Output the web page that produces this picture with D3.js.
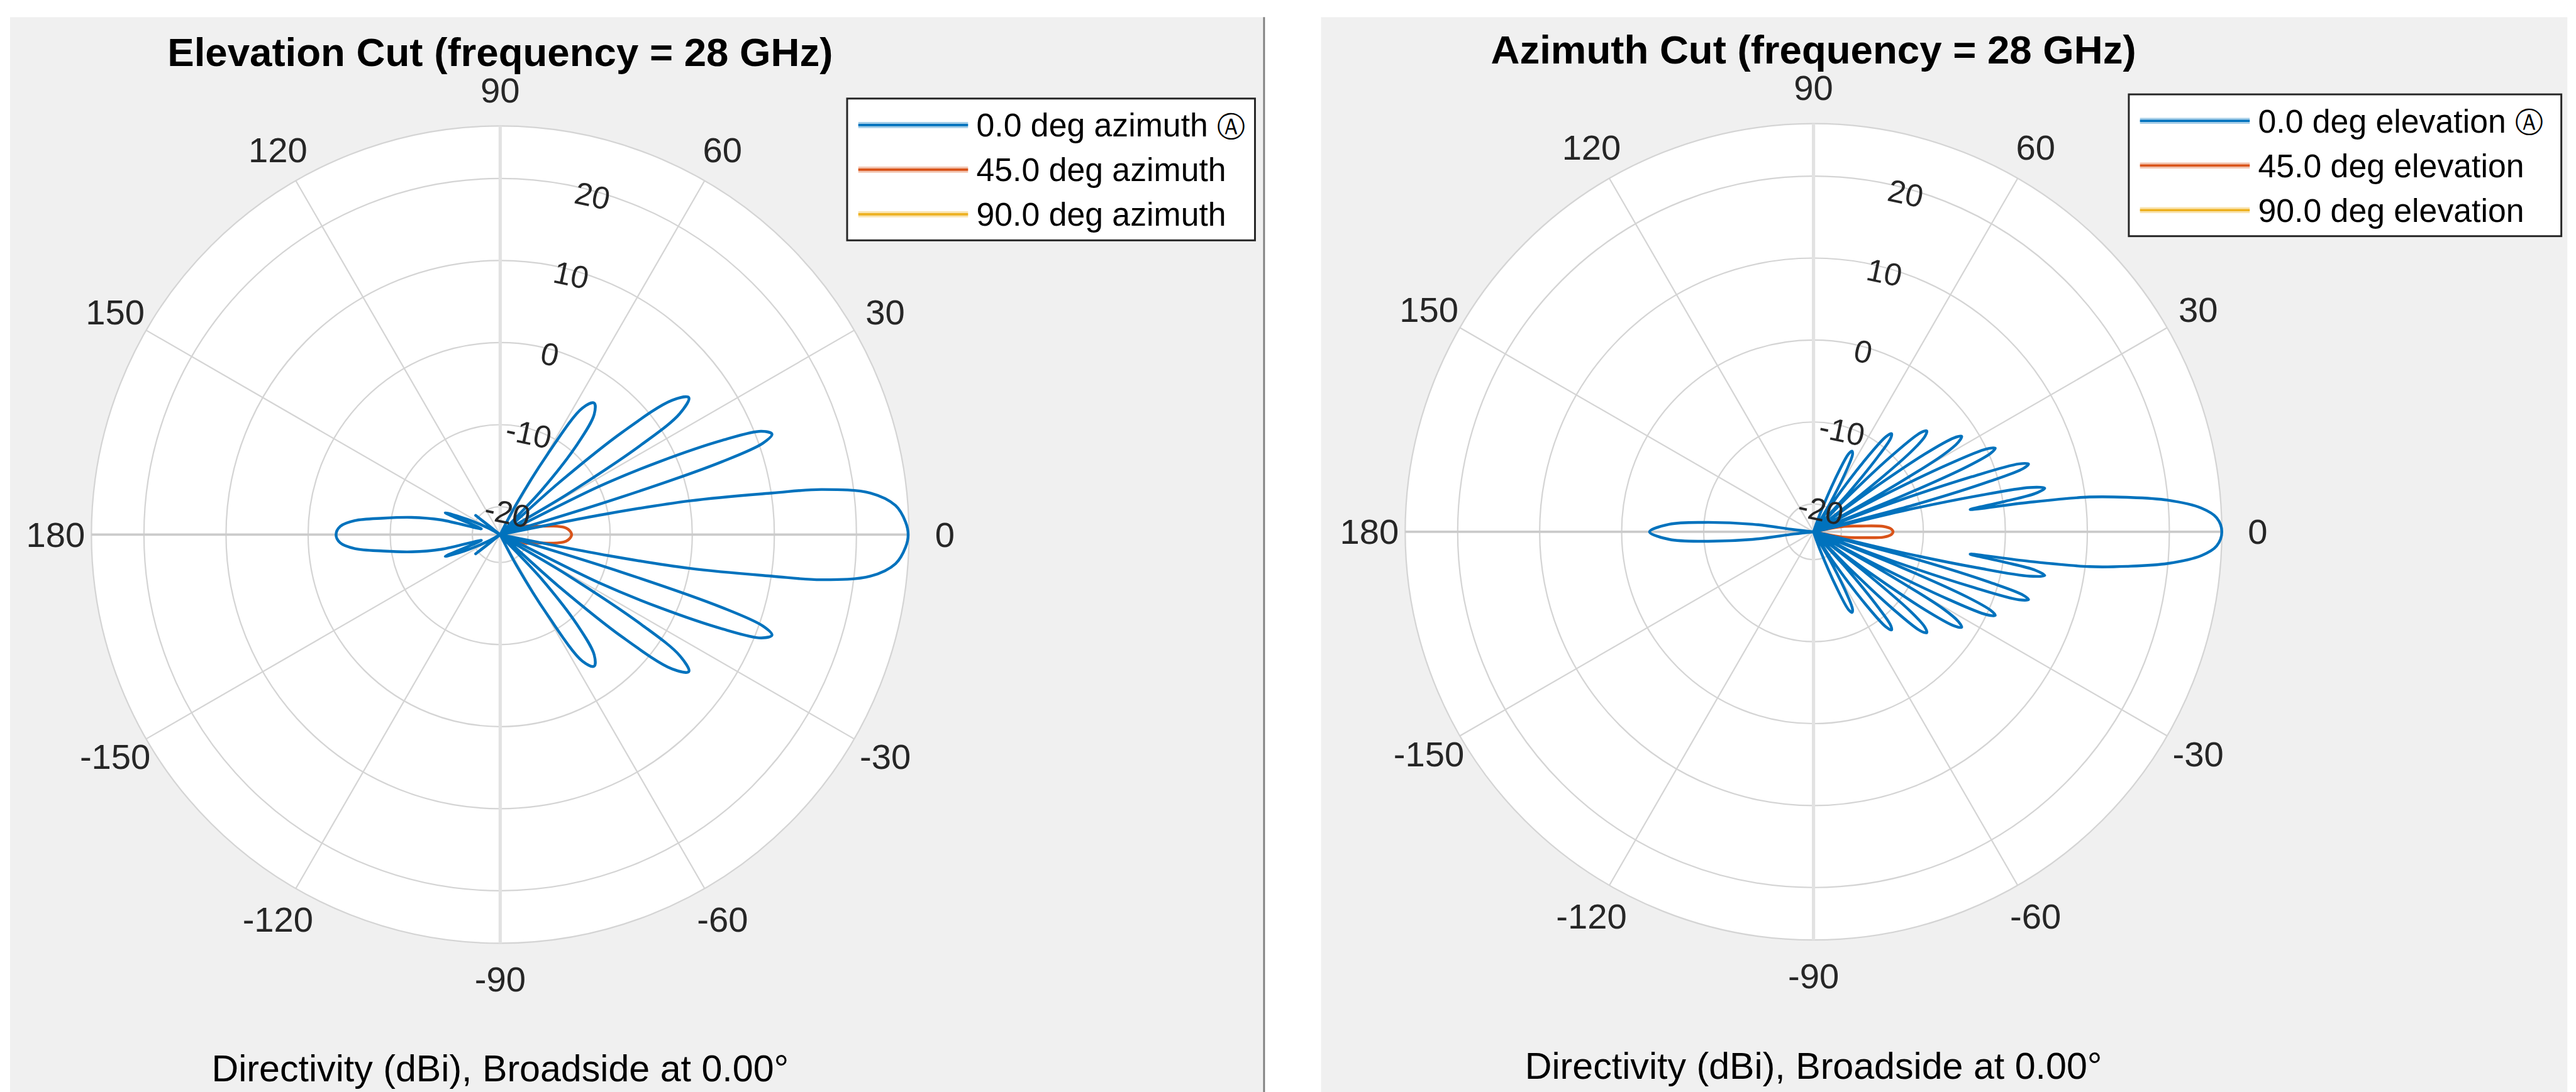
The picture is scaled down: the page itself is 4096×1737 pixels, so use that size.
<!DOCTYPE html>
<html>
<head>
<meta charset="utf-8">
<script src="https://cdn.jsdelivr.net/npm/d3@7"></script>
<style>
  html, body { margin: 0; padding: 0; background: #fff; }
  svg { display: block; font-family: "Liberation Sans", Arial, Helvetica, sans-serif; }
</style>
</head>
<body>
<div id="container"></div>
<script>
/* DATA */
const thetaTicks = [0, 30, 60, 90, 120, 150, 180, -150, -120, -90, -60, -30];
const rTicks = [-20, -10, 0, 10, 20];
const rLimits = [-23.4, 26.4];

const elevTitle = "Elevation Cut (frequency = 28 GHz)";
const azTitle = "Azimuth Cut (frequency = 28 GHz)";
const xLabel = "Directivity (dBi), Broadside at 0.00\u00B0";
const elevLabels = ["0.0 deg azimuth \u24B6", "45.0 deg azimuth", "90.0 deg azimuth"];
const azLabels = ["0.0 deg elevation \u24B6", "45.0 deg elevation", "90.0 deg elevation"];
const seriesColors = ["#0072BD", "#D95319", "#EDB120"];

// [angle (deg), directivity (dBi)]
const elevCut0 = [
  [0,26.3],[1.8,26.0],[4.2,24.9],[6.4,22.0],[8.0,16.1],[8.7,10.1],[10.1,0.1],[11,-10],[12,-23.4],
  [16.5,-23.4],[17.2,-8],[18.2,5],[19.2,10.5],[20.3,11.9],[21.6,10.8],[23,6],[24.6,-2],[26,-10],[27,-23.4],
  [31,-14],[32.5,-3],[34,3],[36,5.0],[38,3.2],[40,-4],[41.5,-14],[43,-23.4],
  [47,-16],[49.5,-9],[52,-4.8],[54.5,-3.7],[57,-5],[59.5,-12],[62,-19],[64,-23.4],
  [100,-23.4],[142,-19.6],[146,-23.4],[151,-22],[155,-19],[158.4,-16.2],[161,-20.5],[163,-21],
  [166,-16.0],[169,-12.4],[172,-9.0],[174.5,-5.6],[177,-3.9],[180,-3.4],
  [183,-3.9],[185.5,-5.6],[188,-9.0],[191,-12.4],[194,-16.0],
  [197,-21],[199,-20.5],[201.6,-16.2],[205,-19],[209,-22],[214,-23.4],[218,-19.6],[260,-23.4],
  [296,-23.4],[298,-19],[300.5,-12],[303,-5],[305.5,-3.7],[308,-4.8],[310.5,-9],[313,-16],
  [317,-23.4],[318.5,-14],[320,-4],[322,3.2],[324,5.0],[326,3],[327.5,-3],[329,-14],
  [333,-23.4],[334,-10],[335.4,-2],[337,6],[338.4,10.8],[339.7,11.9],[340.8,10.5],[341.8,5],[342.8,-8],
  [343.5,-23.4],[348,-23.4],[349,-10],[349.9,0.1],[351.3,10.1],[352,16.1],[353.6,22.0],[355.8,24.9],[358.2,26.0]
];
const elevCut45 = [
  [0,-14.7],[2,-14.8],[4.5,-15.1],[6.6,-15.6],[9,-16.8],[13.5,-19.1],[19,-20.2],[25,-23.4],
  [335,-23.4],[341,-20.2],[346.5,-19.1],[351,-16.8],[353.4,-15.6],[355.5,-15.1],[358,-14.8]
];
const elevCut90 = [[0,-30],[90,-30],[180,-30],[270,-30]];

const azCut0 = [
  [0,26.4],[2,25.8],[3.5,24.0],[5.1,20],[6.3,15],[7.2,10.5],[7.8,3],[8.1,-4.1],
  [9,0],[9.8,4],[10.7,5.3],[11.6,3.5],[12.4,-3],[13.2,-12],[14,-23.4],
  [15,-10],[16,-1],[16.8,3.3],[17.5,4.1],[18.3,3],[19.2,-3],[20.2,-13],[21,-23.4],
  [22,-12],[23,-3],[23.9,0.2],[24.7,1.0],[25.6,0],[26.6,-5],[27.6,-14],[28.5,-23.4],
  [29.5,-14],[30.7,-5],[31.8,-2.6],[32.8,-1.9],[33.8,-2.8],[35,-7],[36,-15],[37,-23.4],
  [38,-16],[39.4,-8],[40.6,-5.5],[41.7,-4.9],[42.8,-5.6],[44.2,-10],[45.5,-17],[46.5,-23.4],
  [48,-17],[49.5,-11],[50.5,-8.6],[51.5,-8.1],[52.7,-8.8],[54.5,-13],[56.5,-19],[58,-23.4],
  [60,-19],[62,-14.5],[63.3,-12.8],[64.5,-12.5],[65.8,-13],[67.5,-16],[70,-21],[72,-23.4],
  [120,-23.4],[172,-23.4],[173.7,-21],[172.9,-15.9],[175.1,-9.9],[177,-5.8],[180,-3.4],
  [183,-5.8],[184.9,-9.9],[187.1,-15.9],[186.3,-21],[188,-23.4],[240,-23.4],
  [288,-23.4],[290,-21],[292.5,-16],[294.2,-13],[295.5,-12.5],[296.7,-12.8],[298,-14.5],[300,-19],
  [302,-23.4],[303.5,-19],[305.5,-13],[307.3,-8.8],[308.5,-8.1],[309.5,-8.6],[310.5,-11],[312,-17],
  [313.5,-23.4],[314.5,-17],[315.8,-10],[317.2,-5.6],[318.3,-4.9],[319.4,-5.5],[320.6,-8],[322,-16],
  [323,-23.4],[324,-15],[325,-7],[326.2,-2.8],[327.2,-1.9],[328.2,-2.6],[329.3,-5],[330.5,-14],
  [331.5,-23.4],[332.4,-14],[333.4,-5],[334.4,0],[335.3,1.0],[336.1,0.2],[337,-3],[338,-12],
  [339,-23.4],[339.8,-13],[340.8,-3],[341.7,3],[342.5,4.1],[343.2,3.3],[344,-1],[345,-10],
  [346,-23.4],[346.8,-12],[347.6,-3],[348.4,3.5],[349.3,5.3],[350.2,4],[351,0],
  [351.9,-4.1],[352.2,3],[352.8,10.5],[353.7,15],[354.9,20],[356.5,24.0],[358,25.8]
];
const azCut45 = [
  [0,-13.7],[2,-13.9],[4.3,-14.8],[7,-17.6],[10,-19.6],[15,-23.4],
  [345,-23.4],[350,-19.6],[353,-17.6],[355.7,-14.8],[358,-13.9]
];
const azCut90 = [[0,-30],[90,-30],[180,-30],[270,-30]];

/* CONSTANTS AND GLOBALS */
const W = 5538, H = 2349;
const rad = d => d * Math.PI / 180;

/* CREATE SVG ELEMENT */
const svg = d3.select("#container")
  .append("svg")
  .attr("width", 4096)
  .attr("height", 1737)
  .attr("viewBox", `0 0 ${W} ${H}`);

svg.append("rect").attr("width", W).attr("height", H).attr("fill", "#ffffff");

// figure backgrounds
svg.append("rect").attr("x", 21).attr("y", 37).attr("width", 2695).attr("height", H - 37).attr("fill", "#f0f0f0");
svg.append("rect").attr("x", 2840).attr("y", 37).attr("width", 2680).attr("height", H - 37).attr("fill", "#f0f0f0");
svg.append("line")
  .attr("x1", 2717.5).attr("x2", 2717.5).attr("y1", 37).attr("y2", H)
  .attr("stroke", "#808080").attr("stroke-width", 4);

function drawPolar(p) {
  const g = svg.append("g").attr("transform", `translate(${p.cx},${p.cy})`);

  // SCALES
  const rScale = d3.scaleLinear().domain(rLimits).range([0, p.R]).clamp(true);
  const xy = (deg, r) => [r * Math.cos(rad(deg)), -r * Math.sin(rad(deg))];

  // GRID
  g.append("circle").attr("r", p.R).attr("fill", "#ffffff");

  g.selectAll(".spoke")
    .data(thetaTicks)
    .join("line")
    .attr("class", "spoke")
    .attr("x2", d => xy(d, p.R)[0])
    .attr("y2", d => xy(d, p.R)[1])
    .attr("stroke", "#d4d4d4")
    .attr("stroke-width", 3);

  g.selectAll(".ring")
    .data(rTicks)
    .join("circle")
    .attr("class", "ring")
    .attr("r", d => rScale(d))
    .attr("fill", "none")
    .attr("stroke", "#d4d4d4")
    .attr("stroke-width", 3);

  g.append("circle")
    .attr("r", p.R)
    .attr("fill", "none")
    .attr("stroke", "#d4d4d4")
    .attr("stroke-width", 3);

  // broadside reference lines
  g.append("line")
    .attr("y1", -p.R).attr("y2", p.R)
    .attr("stroke", "#e2e2e2").attr("stroke-width", 7);
  g.append("line")
    .attr("x1", -p.R).attr("x2", p.R)
    .attr("stroke", "#cbcbcb").attr("stroke-width", 5);

  // THETA TICK LABELS
  g.selectAll(".tlabel")
    .data(thetaTicks)
    .join("text")
    .attr("class", "tlabel")
    .attr("x", d => xy(d, p.R + 77)[0])
    .attr("y", d => xy(d, p.R + 77)[1])
    .attr("text-anchor", "middle")
    .attr("dominant-baseline", "central")
    .attr("font-size", 76)
    .attr("fill", "#262626")
    .text(d => d);

  // PATTERN LINES
  const lineGen = d3.lineRadial()
    .angle(d => rad(90 - d[0]))
    .radius(d => rScale(d[1]))
    .curve(d3.curveCatmullRomClosed.alpha(0.5));

  g.selectAll(".pattern")
    .data(p.series.slice().reverse())
    .join("path")
    .attr("class", "pattern")
    .attr("d", d => lineGen(d.values))
    .attr("fill", "none")
    .attr("stroke", d => d.color)
    .attr("stroke-width", 6)
    .attr("stroke-linejoin", "round");

  // R TICK LABELS
  g.selectAll(".rlabel")
    .data(rTicks)
    .join("text")
    .attr("class", "rlabel")
    .attr("transform", d => {
      const [x, y] = xy(75, rScale(d));
      return `translate(${x},${y + 11}) rotate(12)`;
    })
    .attr("text-anchor", "middle")
    .attr("dominant-baseline", "central")
    .attr("font-size", 68)
    .attr("fill", "#262626")
    .text(d => d);

  // TITLE AND LABEL
  g.append("text")
    .attr("y", -1008)
    .attr("text-anchor", "middle")
    .attr("font-size", 86)
    .attr("font-weight", "bold")
    .attr("fill", "#000")
    .text(p.title);

  g.append("text")
    .attr("y", 1176)
    .attr("text-anchor", "middle")
    .attr("font-size", 80)
    .attr("fill", "#000")
    .text(xLabel);

  // LEGEND
  const lg = svg.append("g").attr("transform", `translate(${p.legend.x},${p.legend.y})`);
  lg.append("rect")
    .attr("width", p.legend.w)
    .attr("height", 305)
    .attr("fill", "#ffffff")
    .attr("stroke", "#262626")
    .attr("stroke-width", 4);

  const rows = lg.selectAll(".row")
    .data(p.series)
    .join("g")
    .attr("class", "row")
    .attr("transform", (d, i) => `translate(0,${57 + i * 96})`);

  rows.append("line")
    .attr("x1", 24).attr("x2", 260)
    .attr("stroke", d => d.color).attr("stroke-width", 13).attr("stroke-opacity", 0.35);
  rows.append("line")
    .attr("x1", 24).attr("x2", 260)
    .attr("stroke", d => d.color).attr("stroke-width", 5);

  const labels = rows.append("text")
    .attr("x", 278)
    .attr("y", 25)
    .attr("font-size", 70)
    .attr("fill", "#000");
  // the circled marker glyph is set a little smaller than the words
  labels.each(function(d) {
    const parts = d.label.split("\u24B6");
    const t = d3.select(this);
    t.append("tspan").text(parts[0]);
    if (parts.length > 1) {
      t.append("tspan").attr("font-size", 61).attr("dy", -1).text("\u24B6");
    }
  });
}

drawPolar({
  cx: 1075, cy: 1150, R: 879,
  title: elevTitle,
  legend: {x: 1821, y: 212, w: 877},
  series: [
    {values: elevCut0, color: seriesColors[0], label: elevLabels[0]},
    {values: elevCut45, color: seriesColors[1], label: elevLabels[1]},
    {values: elevCut90, color: seriesColors[2], label: elevLabels[2]}
  ]
});

drawPolar({
  cx: 3899, cy: 1144, R: 878,
  title: azTitle,
  legend: {x: 4577, y: 203, w: 930},
  series: [
    {values: azCut0, color: seriesColors[0], label: azLabels[0]},
    {values: azCut45, color: seriesColors[1], label: azLabels[1]},
    {values: azCut90, color: seriesColors[2], label: azLabels[2]}
  ]
});
</script>
</body>
</html>
